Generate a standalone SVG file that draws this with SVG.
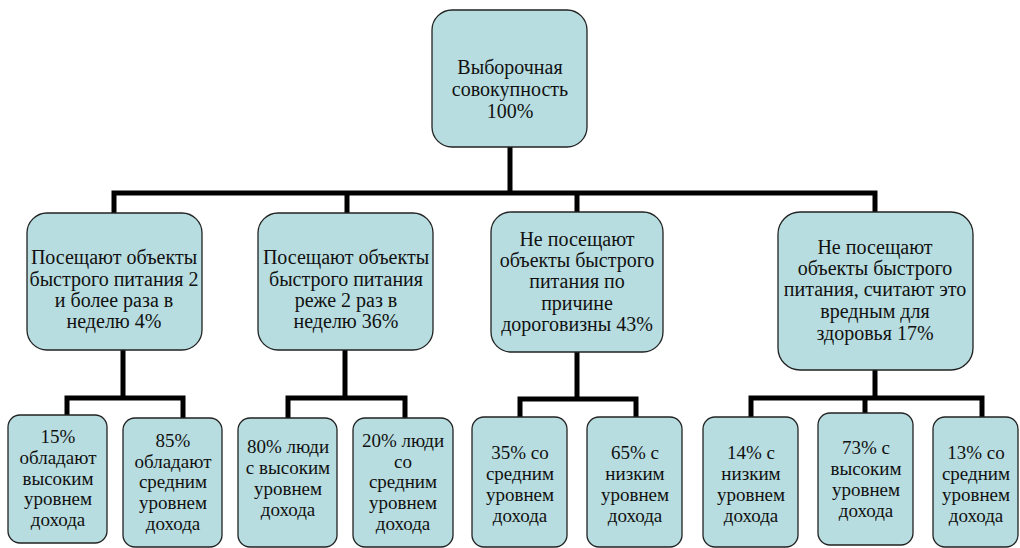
<svg xmlns="http://www.w3.org/2000/svg" width="1020" height="548" viewBox="0 0 1020 548">
<style>
.box{fill:#b7dde0;stroke:#222;stroke-width:1.3}
.t{font-family:"Liberation Serif","Times New Roman",serif;font-size:20px;fill:#111;text-anchor:middle}
.s{font-size:19px}
.c{fill:none;stroke:#000;stroke-width:5;stroke-linejoin:miter;stroke-linecap:square}
</style>
<rect width="1020" height="548" fill="#fff"/>
<g id="connectors">
<path class="c" d="M510,147 V193 M114,211 V193 H875 V211 M347,193 V211 M577,193 V211"/>
<path class="c" d="M123,350 V398 M67,413 V398 H183 V416"/>
<path class="c" d="M345,350 V398 M288,416 V398 H405 V416"/>
<path class="c" d="M577,352 V399 M520,415 V399 H636 V415"/>
<path class="c" d="M875,370 V398 M751,415 V398 H982 V415 M865,398 V411"/>
</g>
<g id="n-root">
<rect class="box" x="432" y="10" width="155" height="137" rx="20"/>
<text class="t" x="510" y="74">Выборочная</text>
<text class="t" x="510" y="96">совокупность</text>
<text class="t" x="510" y="118">100%</text>
</g>
<g id="n-a">
<rect class="box" x="27" y="213" width="175" height="137" rx="20"/>
<text class="t" x="114" y="264">Посещают объекты</text>
<text class="t" x="114" y="286">быстрого питания 2</text>
<text class="t" x="114" y="307">и более раза в</text>
<text class="t" x="114" y="328">неделю 4%</text>
</g>
<g id="n-b">
<rect class="box" x="258" y="213" width="175" height="137" rx="20"/>
<text class="t" x="346" y="264">Посещают объекты</text>
<text class="t" x="346" y="286">быстрого питания</text>
<text class="t" x="346" y="307">реже 2 раз в</text>
<text class="t" x="346" y="328">неделю 36%</text>
</g>
<g id="n-c">
<rect class="box" x="491" y="212" width="172" height="140" rx="20"/>
<text class="t" x="577" y="246">Не посещают</text>
<text class="t" x="577" y="267">объекты быстрого</text>
<text class="t" x="577" y="288">питания по</text>
<text class="t" x="577" y="310">причине</text>
<text class="t" x="577" y="331">дороговизны 43%</text>
</g>
<g id="n-d">
<rect class="box" x="778" y="212" width="195" height="158" rx="22"/>
<text class="t" x="875" y="254">Не посещают</text>
<text class="t" x="875" y="275">объекты быстрого</text>
<text class="t" x="875" y="296">питания, считают это</text>
<text class="t" x="875" y="318">вредным для</text>
<text class="t" x="875" y="340">здоровья 17%</text>
</g>
<g id="n-a1">
<rect class="box" x="8" y="415" width="99" height="128" rx="12"/>
<text class="t s" x="58" y="443">15%</text>
<text class="t s" x="58" y="464">обладают</text>
<text class="t s" x="58" y="485">высоким</text>
<text class="t s" x="58" y="505">уровнем</text>
<text class="t s" x="58" y="526">дохода</text>
</g>
<g id="n-a2">
<rect class="box" x="123" y="418" width="99" height="129" rx="12"/>
<text class="t s" x="173" y="447">85%</text>
<text class="t s" x="173" y="468">обладают</text>
<text class="t s" x="173" y="488">средним</text>
<text class="t s" x="173" y="509">уровнем</text>
<text class="t s" x="173" y="530">дохода</text>
</g>
<g id="n-b1">
<rect class="box" x="238" y="418" width="99" height="129" rx="12"/>
<text class="t s" x="288" y="453">80% люди</text>
<text class="t s" x="288" y="474">с высоким</text>
<text class="t s" x="288" y="495">уровнем</text>
<text class="t s" x="288" y="516">дохода</text>
</g>
<g id="n-b2">
<rect class="box" x="353" y="418" width="100" height="129" rx="12"/>
<text class="t s" x="403" y="447">20% люди</text>
<text class="t s" x="403" y="468">со</text>
<text class="t s" x="403" y="488">средним</text>
<text class="t s" x="403" y="509">уровнем</text>
<text class="t s" x="403" y="530">дохода</text>
</g>
<g id="n-c1">
<rect class="box" x="472" y="417" width="95" height="130" rx="12"/>
<text class="t s" x="520" y="459">35% со</text>
<text class="t s" x="520" y="480">средним</text>
<text class="t s" x="520" y="501">уровнем</text>
<text class="t s" x="520" y="522">дохода</text>
</g>
<g id="n-c2">
<rect class="box" x="587" y="417" width="95" height="130" rx="12"/>
<text class="t s" x="635" y="459">65% с</text>
<text class="t s" x="635" y="480">низким</text>
<text class="t s" x="635" y="501">уровнем</text>
<text class="t s" x="635" y="522">дохода</text>
</g>
<g id="n-d1">
<rect class="box" x="703" y="417" width="95" height="130" rx="12"/>
<text class="t s" x="751" y="459">14% с</text>
<text class="t s" x="751" y="480">низким</text>
<text class="t s" x="751" y="501">уровнем</text>
<text class="t s" x="751" y="522">дохода</text>
</g>
<g id="n-d2">
<rect class="box" x="818" y="413" width="95" height="132" rx="12"/>
<text class="t s" x="866" y="454">73% с</text>
<text class="t s" x="866" y="475">высоким</text>
<text class="t s" x="866" y="496">уровнем</text>
<text class="t s" x="866" y="517">дохода</text>
</g>
<g id="n-d3">
<rect class="box" x="933" y="417" width="85" height="130" rx="12"/>
<text class="t s" x="976" y="459">13% со</text>
<text class="t s" x="976" y="480">средним</text>
<text class="t s" x="976" y="501">уровнем</text>
<text class="t s" x="976" y="522">дохода</text>
</g>
</svg>
